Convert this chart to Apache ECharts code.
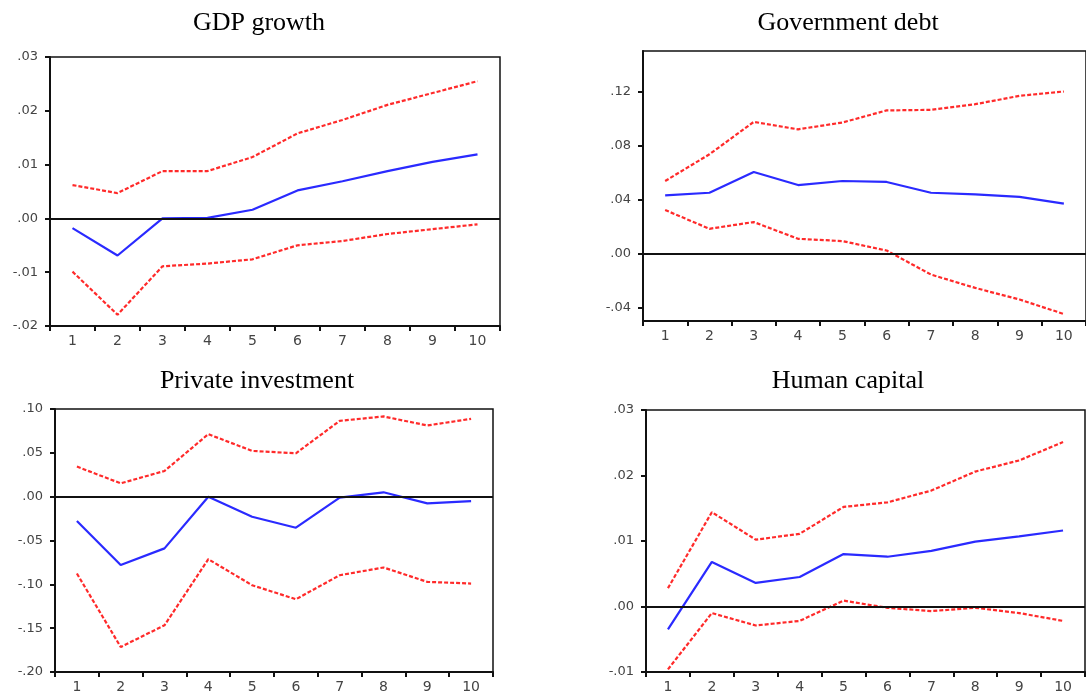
<!DOCTYPE html>
<html>
<head>
<meta charset="utf-8">
<script src="https://cdn.jsdelivr.net/npm/echarts@6/dist/echarts.min.js"></script>
<style>
html,body{margin:0;padding:0;background:#fff;}
#c{width:1086px;height:695px;}
</style>
</head>
<body>
<div id="c"></div>
<script>
const periods = ['1','2','3','4','5','6','7','8','9','10'];
const titles = ['GDP growth','Government debt','Private investment','Human capital'];

const gdpResp  = [-0.0018,-0.0069,0.0000,0.0001,0.0016,0.0052,0.0069,0.0088,0.0105,0.0119];
const gdpUpper = [0.0062,0.0047,0.0088,0.0088,0.0114,0.0158,0.0183,0.0211,0.0233,0.0255];
const gdpLower = [-0.0099,-0.0179,-0.0089,-0.0084,-0.0076,-0.0050,-0.0042,-0.0029,-0.0020,-0.0011];

const debtResp  = [0.0430,0.0450,0.0604,0.0507,0.0537,0.0530,0.0450,0.0438,0.0420,0.0369];
const debtUpper = [0.0537,0.0735,0.0975,0.0920,0.0970,0.1060,0.1064,0.1106,0.1168,0.1200];
const debtLower = [0.0322,0.0183,0.0233,0.0109,0.0092,0.0022,-0.0156,-0.0255,-0.0341,-0.0448];

const invResp  = [-0.0278,-0.0780,-0.0590,0.0000,-0.0229,-0.0354,-0.0010,0.0050,-0.0076,-0.0050];
const invUpper = [0.0343,0.0152,0.0293,0.0713,0.0522,0.0495,0.0865,0.0915,0.0812,0.0888];
const invLower = [-0.0877,-0.1715,-0.1467,-0.0713,-0.1010,-0.1170,-0.0896,-0.0808,-0.0972,-0.0991];

const humResp  = [-0.0035,0.0068,0.0036,0.0045,0.0080,0.0076,0.0085,0.0099,0.0107,0.0116];
const humUpper = [0.0028,0.0144,0.0102,0.0111,0.0152,0.0159,0.0177,0.0206,0.0223,0.0251];
const humLower = [-0.0096,-0.0010,-0.0029,-0.0022,0.0009,-0.0002,-0.0007,-0.0002,-0.0010,-0.0022];

const gdpTicks  = [-0.02,-0.01,0.00,0.01,0.02,0.03];
const debtTicks = [-0.04,0.00,0.04,0.08,0.12];
const invTicks  = [-0.20,-0.15,-0.10,-0.05,0.00,0.05,0.10];
const humTicks  = [-0.01,0.00,0.01,0.02,0.03];

const panels = [
  {resp:gdpResp, up:gdpUpper, lo:gdpLower, ticks:gdpTicks, min:-0.02, max:0.03},
  {resp:debtResp, up:debtUpper, lo:debtLower, ticks:debtTicks, min:-0.05, max:0.15},
  {resp:invResp, up:invUpper, lo:invLower, ticks:invTicks, min:-0.20, max:0.10},
  {resp:humResp, up:humUpper, lo:humLower, ticks:humTicks, min:-0.01, max:0.03}
];

const grids = [
  {left:50, top:57, width:450, height:269},
  {left:643, top:51, width:450, height:270},
  {left:55, top:409, width:438, height:263},
  {left:646, top:410, width:439, height:262}
];
const titlePos = [[259,23],[848,23],[257,381],[848,381]];

function fmt(v){
  let s = Math.abs(v) < 1e-9 ? '0.00' : v.toFixed(2);
  return s.replace(/^(-?)0\./, '$1.');
}

const option = {
  animation:false,
  backgroundColor:'#fff',
  grid: grids.map(g => Object.assign({show:true, borderColor:'#111', borderWidth:1.5, containLabel:false}, g)),
  xAxis: panels.map((p,i) => ({
    type:'category', gridIndex:i, data:periods, boundaryGap:true,
    axisLine:{show:true, onZero:false, lineStyle:{color:'#111', width:2}},
    axisTick:{show:true, length:5, lineStyle:{color:'#111', width:2}},
    axisLabel:{color:'#444', fontFamily:'DejaVu Sans', fontSize:14, margin:8, interval:0},
    splitLine:{show:false}
  })),
  yAxis: panels.map((p,i) => ({
    type:'value', gridIndex:i, min:p.min, max:p.max,
    axisLine:{show:true, onZero:false, lineStyle:{color:'#111', width:2}},
    axisTick:{show:true, length:5, customValues:p.ticks, lineStyle:{color:'#111', width:2}},
    axisLabel:{color:'#444', fontFamily:'DejaVu Sans', fontSize:13, margin:12, customValues:p.ticks, formatter:fmt},
    splitLine:{show:false}
  })),
  graphic: titles.map((t,i) => ({
    type:'text', x:titlePos[i][0], y:titlePos[i][1],
    style:{text:t, fill:'#000', font:'26px "Liberation Serif"', textAlign:'center', textVerticalAlign:'middle'}
  })),
  series: []
};

panels.forEach((p,i) => {
  option.series.push({
    type:'line', xAxisIndex:i, yAxisIndex:i, data:p.up, symbol:'none',
    lineStyle:{color:'#ff2a2a', width:2.2, type:[4,2]}
  });
  option.series.push({
    type:'line', xAxisIndex:i, yAxisIndex:i, data:p.lo, symbol:'none',
    lineStyle:{color:'#ff2a2a', width:2.2, type:[4,2]}
  });
  option.series.push({
    type:'line', xAxisIndex:i, yAxisIndex:i, data:p.resp, symbol:'none',
    lineStyle:{color:'#2a2aff', width:2.2, type:'solid'},
    markLine:{silent:true, symbol:'none', label:{show:false},
      lineStyle:{color:'#111', width:2, type:'solid'}, data:[{yAxis:0}]}
  });
});

const chart = echarts.init(document.getElementById('c'));
chart.setOption(option);
</script>
</body>
</html>
